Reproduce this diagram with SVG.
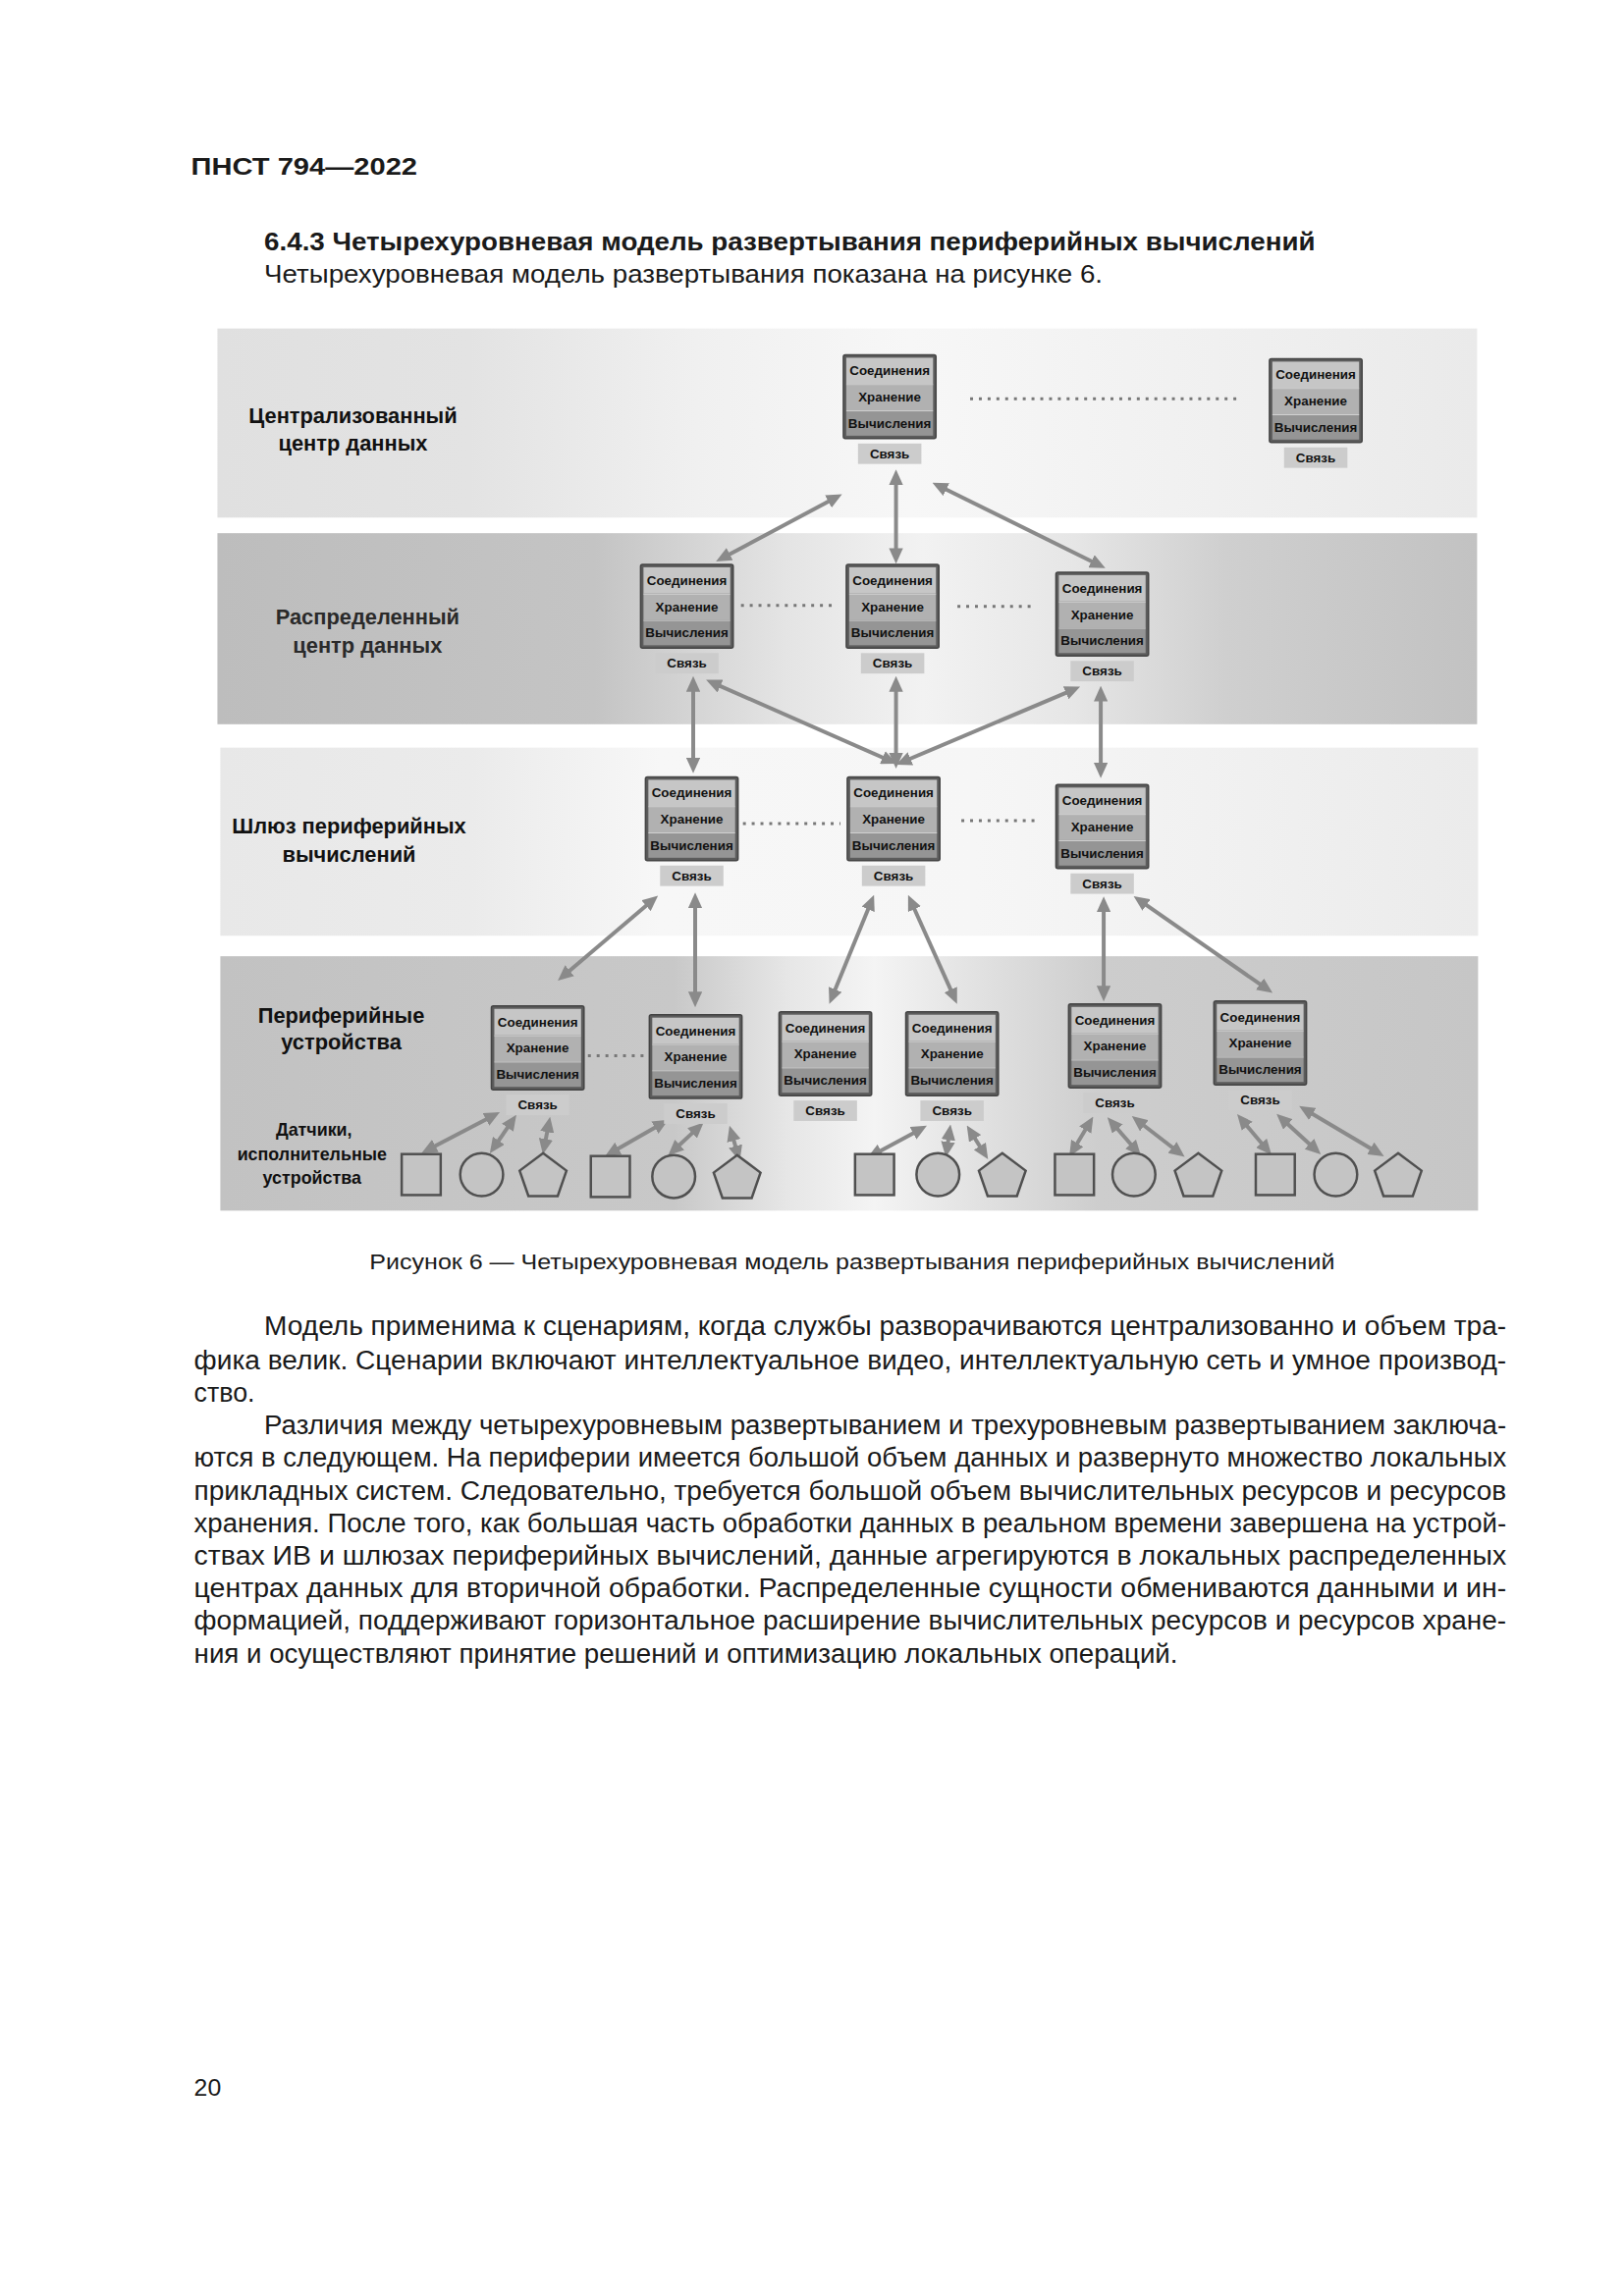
<svg xmlns="http://www.w3.org/2000/svg" width="1654" height="2339" viewBox="0 0 1654 2339">
<defs>
<linearGradient id="g1" x1="0" x2="1" y1="0" y2="0"><stop offset="0" stop-color="#e0e0e0"/><stop offset="0.2" stop-color="#e3e3e3"/><stop offset="0.38" stop-color="#f0f0f0"/><stop offset="0.55" stop-color="#f7f7f7"/><stop offset="1" stop-color="#eaeaea"/></linearGradient>
<linearGradient id="g2" x1="0" x2="1" y1="0" y2="0"><stop offset="0" stop-color="#bdbdbd"/><stop offset="0.3" stop-color="#c4c4c4"/><stop offset="0.45" stop-color="#e4e4e4"/><stop offset="0.56" stop-color="#f2f2f2"/><stop offset="0.68" stop-color="#e6e6e6"/><stop offset="0.8" stop-color="#cfcfcf"/><stop offset="1" stop-color="#c2c2c2"/></linearGradient>
<linearGradient id="g3" x1="0" x2="1" y1="0" y2="0"><stop offset="0" stop-color="#e8e8e8"/><stop offset="0.2" stop-color="#ebebeb"/><stop offset="0.35" stop-color="#f7f7f7"/><stop offset="0.6" stop-color="#f6f6f6"/><stop offset="1" stop-color="#ebebeb"/></linearGradient>
<linearGradient id="g4" x1="0" x2="1" y1="0" y2="0"><stop offset="0" stop-color="#c2c2c2"/><stop offset="0.36" stop-color="#c8c8c8"/><stop offset="0.45" stop-color="#e6e6e6"/><stop offset="0.52" stop-color="#f4f4f4"/><stop offset="0.6" stop-color="#e2e2e2"/><stop offset="0.7" stop-color="#cdcdcd"/><stop offset="1" stop-color="#c6c6c6"/></linearGradient>
<marker id="ah" viewBox="0 0 10 9" refX="6" refY="4.5" markerWidth="4" markerHeight="3.6" orient="auto-start-reverse"><path d="M0,0 L10,4.5 L0,9 z" fill="#8a8a8a"/></marker>
</defs>
<style>
.t{font-family:"Liberation Sans",Arial,sans-serif;fill:#1a1a1a}
.b{font-weight:bold}
.body{font-size:27px}
.lbl{font-family:"Liberation Sans",Arial,sans-serif;font-size:22px;font-weight:bold;text-anchor:middle;fill:#111}
.lbn{font-family:"Liberation Sans",Arial,sans-serif;font-size:22px;font-weight:bold;text-anchor:middle;fill:#2a2a2a}
.lbs{font-family:"Liberation Sans",Arial,sans-serif;font-size:18px;font-weight:bold;text-anchor:middle;fill:#111}
.nb{fill:#5c5c5c;stroke:#444;stroke-width:1.5}
.r1{fill:#c6c6c6}
.r2{fill:#b1b1b1}
.r3{fill:#959595}
.sep{stroke:#d2d2d2;stroke-width:1}
.nt{font-family:"Liberation Sans",Arial,sans-serif;font-size:13.5px;font-weight:bold;text-anchor:middle;fill:#111}
.sv{fill:#cccccc}
.ar{stroke:#8a8a8a;stroke-width:4;fill:none;marker-start:url(#ah);marker-end:url(#ah)}
.dot{stroke:#777;stroke-width:3;stroke-dasharray:3 6;fill:none}
.sh{fill:#c4c4c4;stroke:#505050;stroke-width:2.5}
</style>
<rect width="1654" height="2339" fill="#ffffff"/>
<g transform="scale(0.993)">
<text class="t b" x="196" y="179" font-size="25" textLength="232" lengthAdjust="spacingAndGlyphs">ПНСТ 794—2022</text>
<text class="t b" x="271" y="257" font-size="26" textLength="1078" lengthAdjust="spacingAndGlyphs">6.4.3 Четырехуровневая модель развертывания периферийных вычислений</text>
<text class="t" x="271" y="290" font-size="26" textLength="860" lengthAdjust="spacingAndGlyphs">Четырехуровневая модель развертывания показана на рисунке 6.</text>

<g id="bands">
<rect x="223" y="337" width="1292" height="194" fill="url(#g1)"/>
<rect x="223" y="547" width="1292" height="196" fill="url(#g2)"/>
<rect x="226" y="767" width="1290" height="193" fill="url(#g3)"/>
<rect x="226" y="981" width="1290" height="261" fill="url(#g4)"/>
</g>

<g id="labels">
<text class="lbl" x="362" y="434">Централизованный</text>
<text class="lbl" x="362" y="462">центр данных</text>
<text class="lbn" x="377" y="640">Распределенный</text>
<text class="lbn" x="377" y="670">центр данных</text>
<text class="lbl" x="358" y="855">Шлюз периферийных</text>
<text class="lbl" x="358" y="884">вычислений</text>
<text class="lbl" x="350" y="1049">Периферийные</text>
<text class="lbl" x="350" y="1077">устройства</text>
<text class="lbs" x="322" y="1165">Датчики,</text>
<text class="lbs" x="320" y="1190">исполнительные</text>
<text class="lbs" x="320" y="1214">устройства</text>
</g>

<g id="connectors">
<line class="dot" x1="995" y1="409" x2="1272" y2="409"/>
<line class="dot" x1="760" y1="621" x2="858" y2="621"/>
<line class="dot" x1="982" y1="622" x2="1062" y2="622"/>
<line class="dot" x1="762" y1="845" x2="862" y2="845"/>
<line class="dot" x1="986" y1="842" x2="1062" y2="842"/>
<line class="dot" x1="603" y1="1083" x2="662" y2="1083"/>

<line class="ar" x1="858" y1="510" x2="740" y2="573"/>
<line class="ar" x1="919" y1="488" x2="919" y2="572"/>
<line class="ar" x1="962" y1="498" x2="1128" y2="580"/>

<line class="ar" x1="711" y1="700" x2="711" y2="787"/>
<line class="ar" x1="730" y1="700" x2="914" y2="781"/>
<line class="ar" x1="919" y1="700" x2="919" y2="782"/>
<line class="ar" x1="1102" y1="707" x2="925" y2="782"/>
<line class="ar" x1="1129" y1="710" x2="1129" y2="792"/>

<line class="ar" x1="670" y1="923" x2="577" y2="1002"/>
<line class="ar" x1="713" y1="922" x2="713" y2="1027"/>
<line class="ar" x1="894" y1="924" x2="853" y2="1024"/>
<line class="ar" x1="934" y1="924" x2="979" y2="1024"/>
<line class="ar" x1="1132" y1="926" x2="1132" y2="1021"/>
<line class="ar" x1="1168" y1="923" x2="1300" y2="1015"/>

<line class="ar" x1="507" y1="1144" x2="438" y2="1180"/>
<line class="ar" x1="526" y1="1149" x2="506" y2="1178"/>
<line class="ar" x1="563" y1="1152" x2="558" y2="1178"/>
<line class="ar" x1="680" y1="1152" x2="626" y2="1183"/>
<line class="ar" x1="717" y1="1156" x2="690" y2="1181"/>
<line class="ar" x1="750" y1="1161" x2="757" y2="1185"/>
<line class="ar" x1="945" y1="1158" x2="895" y2="1185"/>
<line class="ar" x1="974" y1="1160" x2="971" y2="1181"/>
<line class="ar" x1="995" y1="1160" x2="1010" y2="1184"/>
<line class="ar" x1="1118" y1="1151" x2="1100" y2="1181"/>
<line class="ar" x1="1140" y1="1151" x2="1166" y2="1181"/>
<line class="ar" x1="1166" y1="1149" x2="1210" y2="1183"/>
<line class="ar" x1="1273" y1="1148" x2="1300" y2="1180"/>
<line class="ar" x1="1314" y1="1147" x2="1350" y2="1180"/>
<line class="ar" x1="1338" y1="1138" x2="1414" y2="1183"/>
</g>

<g id="n1" transform="translate(865,364)"><rect class="nb" width="95" height="86" rx="2"/><rect class="r1" x="3" y="3" width="89" height="27"/><rect class="r2" x="3" y="30" width="89" height="27"/><rect class="r3" x="3" y="57" width="89" height="26"/><line class="sep" x1="3" y1="30.5" x2="92" y2="30.5"/><line class="sep" x1="3" y1="57.5" x2="92" y2="57.5"/><text class="nt" x="47.5" y="21">Соединения</text><text class="nt" x="47.5" y="48">Хранение</text><text class="nt" x="47.5" y="75">Вычисления</text><rect class="sv" x="15" y="91" width="65" height="21"/><text class="nt" x="47.5" y="106">Связь</text></g>
<g id="n2" transform="translate(1302,368)"><rect class="nb" width="95" height="86" rx="2"/><rect class="r1" x="3" y="3" width="89" height="27"/><rect class="r2" x="3" y="30" width="89" height="27"/><rect class="r3" x="3" y="57" width="89" height="26"/><line class="sep" x1="3" y1="30.5" x2="92" y2="30.5"/><line class="sep" x1="3" y1="57.5" x2="92" y2="57.5"/><text class="nt" x="47.5" y="21">Соединения</text><text class="nt" x="47.5" y="48">Хранение</text><text class="nt" x="47.5" y="75">Вычисления</text><rect class="sv" x="15" y="91" width="65" height="21"/><text class="nt" x="47.5" y="106">Связь</text></g>
<g id="n3" transform="translate(657,579)"><rect class="nb" width="95" height="86" rx="2"/><rect class="r1" x="3" y="3" width="89" height="27"/><rect class="r2" x="3" y="30" width="89" height="27"/><rect class="r3" x="3" y="57" width="89" height="26"/><line class="sep" x1="3" y1="30.5" x2="92" y2="30.5"/><line class="sep" x1="3" y1="57.5" x2="92" y2="57.5"/><text class="nt" x="47.5" y="21">Соединения</text><text class="nt" x="47.5" y="48">Хранение</text><text class="nt" x="47.5" y="75">Вычисления</text><rect class="sv" x="15" y="91" width="65" height="21"/><text class="nt" x="47.5" y="106">Связь</text></g>
<g id="n4" transform="translate(868,579)"><rect class="nb" width="95" height="86" rx="2"/><rect class="r1" x="3" y="3" width="89" height="27"/><rect class="r2" x="3" y="30" width="89" height="27"/><rect class="r3" x="3" y="57" width="89" height="26"/><line class="sep" x1="3" y1="30.5" x2="92" y2="30.5"/><line class="sep" x1="3" y1="57.5" x2="92" y2="57.5"/><text class="nt" x="47.5" y="21">Соединения</text><text class="nt" x="47.5" y="48">Хранение</text><text class="nt" x="47.5" y="75">Вычисления</text><rect class="sv" x="15" y="91" width="65" height="21"/><text class="nt" x="47.5" y="106">Связь</text></g>
<g id="n5" transform="translate(1083,587)"><rect class="nb" width="95" height="86" rx="2"/><rect class="r1" x="3" y="3" width="89" height="27"/><rect class="r2" x="3" y="30" width="89" height="27"/><rect class="r3" x="3" y="57" width="89" height="26"/><line class="sep" x1="3" y1="30.5" x2="92" y2="30.5"/><line class="sep" x1="3" y1="57.5" x2="92" y2="57.5"/><text class="nt" x="47.5" y="21">Соединения</text><text class="nt" x="47.5" y="48">Хранение</text><text class="nt" x="47.5" y="75">Вычисления</text><rect class="sv" x="15" y="91" width="65" height="21"/><text class="nt" x="47.5" y="106">Связь</text></g>
<g id="n6" transform="translate(662,797)"><rect class="nb" width="95" height="86" rx="2"/><rect class="r1" x="3" y="3" width="89" height="27"/><rect class="r2" x="3" y="30" width="89" height="27"/><rect class="r3" x="3" y="57" width="89" height="26"/><line class="sep" x1="3" y1="30.5" x2="92" y2="30.5"/><line class="sep" x1="3" y1="57.5" x2="92" y2="57.5"/><text class="nt" x="47.5" y="21">Соединения</text><text class="nt" x="47.5" y="48">Хранение</text><text class="nt" x="47.5" y="75">Вычисления</text><rect class="sv" x="15" y="91" width="65" height="21"/><text class="nt" x="47.5" y="106">Связь</text></g>
<g id="n7" transform="translate(869,797)"><rect class="nb" width="95" height="86" rx="2"/><rect class="r1" x="3" y="3" width="89" height="27"/><rect class="r2" x="3" y="30" width="89" height="27"/><rect class="r3" x="3" y="57" width="89" height="26"/><line class="sep" x1="3" y1="30.5" x2="92" y2="30.5"/><line class="sep" x1="3" y1="57.5" x2="92" y2="57.5"/><text class="nt" x="47.5" y="21">Соединения</text><text class="nt" x="47.5" y="48">Хранение</text><text class="nt" x="47.5" y="75">Вычисления</text><rect class="sv" x="15" y="91" width="65" height="21"/><text class="nt" x="47.5" y="106">Связь</text></g>
<g id="n8" transform="translate(1083,805)"><rect class="nb" width="95" height="86" rx="2"/><rect class="r1" x="3" y="3" width="89" height="27"/><rect class="r2" x="3" y="30" width="89" height="27"/><rect class="r3" x="3" y="57" width="89" height="26"/><line class="sep" x1="3" y1="30.5" x2="92" y2="30.5"/><line class="sep" x1="3" y1="57.5" x2="92" y2="57.5"/><text class="nt" x="47.5" y="21">Соединения</text><text class="nt" x="47.5" y="48">Хранение</text><text class="nt" x="47.5" y="75">Вычисления</text><rect class="sv" x="15" y="91" width="65" height="21"/><text class="nt" x="47.5" y="106">Связь</text></g>
<g id="n9" transform="translate(504,1032)"><rect class="nb" width="95" height="86" rx="2"/><rect class="r1" x="3" y="3" width="89" height="27"/><rect class="r2" x="3" y="30" width="89" height="27"/><rect class="r3" x="3" y="57" width="89" height="26"/><line class="sep" x1="3" y1="30.5" x2="92" y2="30.5"/><line class="sep" x1="3" y1="57.5" x2="92" y2="57.5"/><text class="nt" x="47.5" y="21">Соединения</text><text class="nt" x="47.5" y="48">Хранение</text><text class="nt" x="47.5" y="75">Вычисления</text><rect class="sv" x="15" y="91" width="65" height="21"/><text class="nt" x="47.5" y="106">Связь</text></g>
<g id="n10" transform="translate(666,1041)"><rect class="nb" width="95" height="86" rx="2"/><rect class="r1" x="3" y="3" width="89" height="27"/><rect class="r2" x="3" y="30" width="89" height="27"/><rect class="r3" x="3" y="57" width="89" height="26"/><line class="sep" x1="3" y1="30.5" x2="92" y2="30.5"/><line class="sep" x1="3" y1="57.5" x2="92" y2="57.5"/><text class="nt" x="47.5" y="21">Соединения</text><text class="nt" x="47.5" y="48">Хранение</text><text class="nt" x="47.5" y="75">Вычисления</text><rect class="sv" x="15" y="91" width="65" height="21"/><text class="nt" x="47.5" y="106">Связь</text></g>
<g id="n11" transform="translate(799,1038)"><rect class="nb" width="95" height="86" rx="2"/><rect class="r1" x="3" y="3" width="89" height="27"/><rect class="r2" x="3" y="30" width="89" height="27"/><rect class="r3" x="3" y="57" width="89" height="26"/><line class="sep" x1="3" y1="30.5" x2="92" y2="30.5"/><line class="sep" x1="3" y1="57.5" x2="92" y2="57.5"/><text class="nt" x="47.5" y="21">Соединения</text><text class="nt" x="47.5" y="48">Хранение</text><text class="nt" x="47.5" y="75">Вычисления</text><rect class="sv" x="15" y="91" width="65" height="21"/><text class="nt" x="47.5" y="106">Связь</text></g>
<g id="n12" transform="translate(929,1038)"><rect class="nb" width="95" height="86" rx="2"/><rect class="r1" x="3" y="3" width="89" height="27"/><rect class="r2" x="3" y="30" width="89" height="27"/><rect class="r3" x="3" y="57" width="89" height="26"/><line class="sep" x1="3" y1="30.5" x2="92" y2="30.5"/><line class="sep" x1="3" y1="57.5" x2="92" y2="57.5"/><text class="nt" x="47.5" y="21">Соединения</text><text class="nt" x="47.5" y="48">Хранение</text><text class="nt" x="47.5" y="75">Вычисления</text><rect class="sv" x="15" y="91" width="65" height="21"/><text class="nt" x="47.5" y="106">Связь</text></g>
<g id="n13" transform="translate(1096,1030)"><rect class="nb" width="95" height="86" rx="2"/><rect class="r1" x="3" y="3" width="89" height="27"/><rect class="r2" x="3" y="30" width="89" height="27"/><rect class="r3" x="3" y="57" width="89" height="26"/><line class="sep" x1="3" y1="30.5" x2="92" y2="30.5"/><line class="sep" x1="3" y1="57.5" x2="92" y2="57.5"/><text class="nt" x="47.5" y="21">Соединения</text><text class="nt" x="47.5" y="48">Хранение</text><text class="nt" x="47.5" y="75">Вычисления</text><rect class="sv" x="15" y="91" width="65" height="21"/><text class="nt" x="47.5" y="106">Связь</text></g>
<g id="n14" transform="translate(1245,1027)"><rect class="nb" width="95" height="86" rx="2"/><rect class="r1" x="3" y="3" width="89" height="27"/><rect class="r2" x="3" y="30" width="89" height="27"/><rect class="r3" x="3" y="57" width="89" height="26"/><line class="sep" x1="3" y1="30.5" x2="92" y2="30.5"/><line class="sep" x1="3" y1="57.5" x2="92" y2="57.5"/><text class="nt" x="47.5" y="21">Соединения</text><text class="nt" x="47.5" y="48">Хранение</text><text class="nt" x="47.5" y="75">Вычисления</text><rect class="sv" x="15" y="91" width="65" height="21" fill="#d8d8d8"/><text class="nt" x="47.5" y="106">Связь</text></g>

<g id="sensors">
<rect class="sh" x="412" y="1184" width="40" height="42"/>
<ellipse class="sh" cx="494" cy="1205" rx="22" ry="22"/>
<polygon class="sh" points="557,1183 581,1201 572,1227 542,1227 533,1201"/>
<rect class="sh" x="606" y="1186" width="40" height="42"/>
<ellipse class="sh" cx="691" cy="1207" rx="22" ry="22"/>
<polygon class="sh" points="756,1185 780,1203 771,1229 741,1229 732,1203"/>
<rect class="sh" x="877" y="1184" width="40" height="42"/>
<ellipse class="sh" cx="962" cy="1205" rx="22" ry="22"/>
<polygon class="sh" points="1028,1183 1052,1201 1043,1227 1013,1227 1004,1201"/>
<rect class="sh" x="1082" y="1184" width="40" height="42"/>
<ellipse class="sh" cx="1163" cy="1205" rx="22" ry="22"/>
<polygon class="sh" points="1229,1183 1253,1201 1244,1227 1214,1227 1205,1201"/>
<rect class="sh" x="1288" y="1184" width="40" height="42"/>
<ellipse class="sh" cx="1370" cy="1205" rx="22" ry="22"/>
<polygon class="sh" points="1434,1183 1458,1201 1449,1227 1419,1227 1410,1201"/>
</g>

<text class="t" x="379" y="1302" font-size="22" textLength="990" lengthAdjust="spacingAndGlyphs">Рисунок 6 — Четырехуровневая модель развертывания периферийных вычислений</text>

<g id="body" class="t body">
<text x="271" y="1370" textLength="1274" lengthAdjust="spacingAndGlyphs">Модель применима к сценариям, когда службы разворачиваются централизованно и объем тра-</text>
<text x="199" y="1405" textLength="1346" lengthAdjust="spacingAndGlyphs">фика велик. Сценарии включают интеллектуальное видео, интеллектуальную сеть и умное производ-</text>
<text x="199" y="1438">ство.</text>
<text x="271" y="1471" textLength="1274" lengthAdjust="spacingAndGlyphs">Различия между четырехуровневым развертыванием и трехуровневым развертыванием заключа-</text>
<text x="199" y="1505" textLength="1346" lengthAdjust="spacingAndGlyphs">ются в следующем. На периферии имеется большой объем данных и развернуто множество локальных</text>
<text x="199" y="1539" textLength="1346" lengthAdjust="spacingAndGlyphs">прикладных систем. Следовательно, требуется большой объем вычислительных ресурсов и ресурсов</text>
<text x="199" y="1572" textLength="1346" lengthAdjust="spacingAndGlyphs">хранения. После того, как большая часть обработки данных в реальном времени завершена на устрой-</text>
<text x="199" y="1605" textLength="1346" lengthAdjust="spacingAndGlyphs">ствах ИВ и шлюзах периферийных вычислений, данные агрегируются в локальных распределенных</text>
<text x="199" y="1638" textLength="1346" lengthAdjust="spacingAndGlyphs">центрах данных для вторичной обработки. Распределенные сущности обмениваются данными и ин-</text>
<text x="199" y="1672" textLength="1346" lengthAdjust="spacingAndGlyphs">формацией, поддерживают горизонтальное расширение вычислительных ресурсов и ресурсов хране-</text>
<text x="199" y="1706" textLength="1009" lengthAdjust="spacingAndGlyphs">ния и осуществляют принятие решений и оптимизацию локальных операций.</text>
</g>

<text class="t" x="199" y="2150" font-size="25">20</text>
</g>
</svg>
